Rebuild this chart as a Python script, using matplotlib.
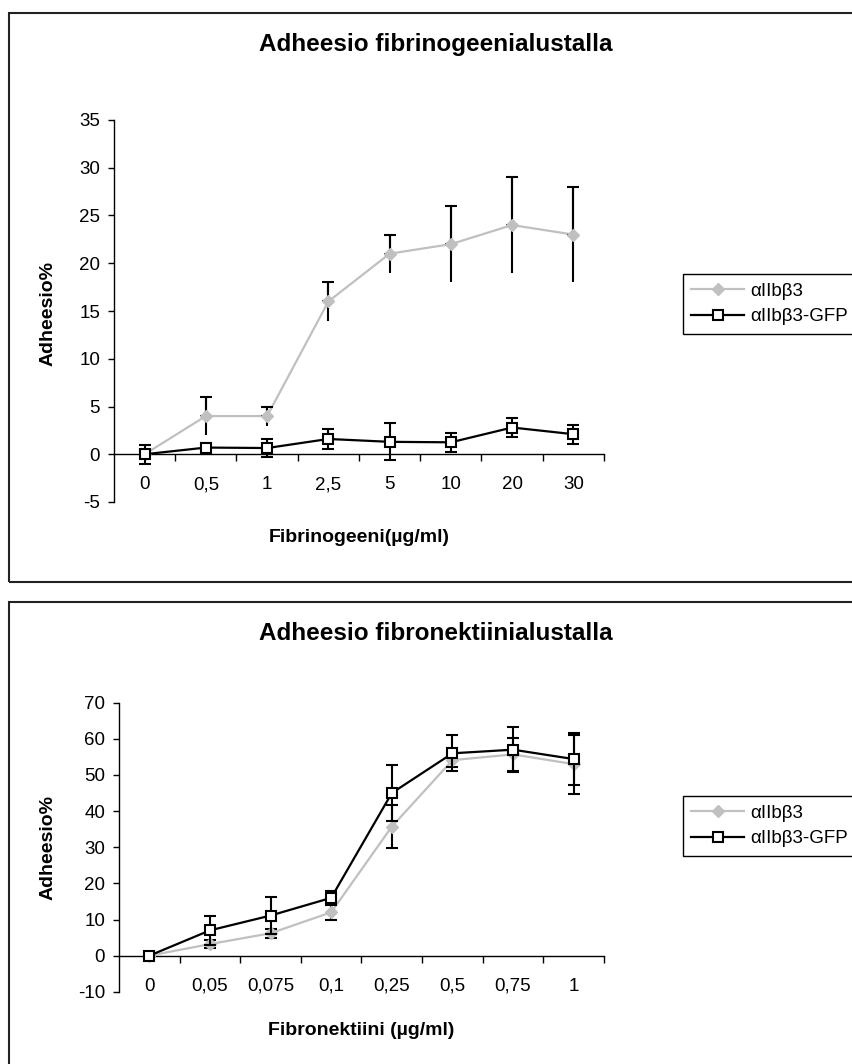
import numpy as np
import matplotlib
matplotlib.use("Agg")
import matplotlib.pyplot as plt
from matplotlib.patches import Rectangle
from matplotlib.lines import Line2D

plt.rcParams['font.family'] = ['Liberation Sans', 'DejaVu Sans']
plt.rcParams['axes.unicode_minus'] = False

# Fibrinogeeni data
fib_labels = ['0', '0,5', '1', '2,5', '5', '10', '20', '30']
fib_wt = [0, 4, 4, 16, 21, 22, 24, 23]
fib_wt_err = [0, 2, 1, 2, 2, 4, 5, 5]
fib_gfp = [0, 0.7, 0.65, 1.6, 1.3, 1.25, 2.8, 2.1]
fib_gfp_err = [1, 0.5, 0.9, 1, 1.95, 1, 1, 1]

# Fibronektiini data
fn_labels = ['0', '0,05', '0,075', '0,1', '0,25', '0,5', '0,75', '1']
fn_wt = [0, 3.2, 6.2, 12, 35.7, 54.1, 55.7, 53]
fn_wt_err = [0, 1, 1.2, 2, 6, 2, 4.5, 8.2]
fn_gfp = [0, 7, 11.1, 16, 45, 56, 57, 54.4]
fn_gfp_err = [0, 4, 5.2, 1.8, 7.7, 5, 6.3, 7.2]

series_names = ['αIIbβ3', 'αIIbβ3-GFP']
gray = '#C0C0C0'

W, H = 853, 1064
fig = plt.figure(figsize=(W / 100, H / 100), dpi=100)


def draw_panel(ax, labels, wt, wt_err, gfp, gfp_err, ylim, ystep, upper_only):
    x = np.arange(len(labels))
    # gray series
    ax.plot(x, wt, color=gray, lw=1.6, zorder=2)
    if upper_only:
        ax.errorbar(x, wt, yerr=wt_err, fmt='none', ecolor='black',
                    elinewidth=1.5, capsize=0, zorder=3)
        ax.errorbar(x, wt, yerr=[np.zeros(len(x)), wt_err], fmt='none',
                    ecolor='black', elinewidth=1.5, capsize=4.3,
                    capthick=1.5, zorder=3)
    else:
        ax.errorbar(x, wt, yerr=wt_err, fmt='none', ecolor='black',
                    elinewidth=1.5, capsize=4.3, capthick=1.5, zorder=3)
    ax.plot(x, wt, ls='none', marker='D', ms=6.5, mfc=gray, mec=gray, zorder=4)
    # black series
    ax.errorbar(x, gfp, yerr=gfp_err, fmt='none', ecolor='black',
                elinewidth=1.5, capsize=4.3, capthick=1.5, zorder=5)
    ax.plot(x, gfp, color='black', lw=1.6, marker='s', ms=7.5,
            mfc='white', mec='black', mew=1.5, zorder=6)

    ax.set_xlim(-0.5, len(labels) - 0.5)
    ax.set_ylim(*ylim)
    ax.set_yticks(np.arange(ylim[0], ylim[1] + 1, ystep))
    ax.set_xticks(np.arange(0.5, len(labels), 1))
    ax.set_xticklabels([])
    ax.set_xticks(x, minor=True)
    ax.set_xticklabels(labels, minor=True)
    ax.tick_params(axis='x', which='major', length=5, width=1, direction='out')
    ax.tick_params(axis='x', which='minor', length=0, pad=16, labelsize=13.5)
    ax.tick_params(axis='y', length=4, width=1, direction='out', pad=6,
                   labelsize=13.5)
    for s in ['top', 'right']:
        ax.spines[s].set_visible(False)
    ax.spines['bottom'].set_position(('data', 0))
    ax.spines['bottom'].set_linewidth(1)
    ax.spines['left'].set_linewidth(1)
    ax.patch.set_alpha(0)


handles = [
    Line2D([], [], color=gray, lw=1.6, marker='D', ms=6.5, mfc=gray, mec=gray),
    Line2D([], [], color='black', lw=1.6, marker='s', ms=7.5, mfc='white',
           mec='black', mew=1.5),
]
legend_kw = dict(loc='upper left', fontsize=13.5, frameon=True, fancybox=False,
                 edgecolor='black', framealpha=1, handlelength=2.8,
                 labelspacing=0.45, borderpad=0.45, handletextpad=0.35,
                 borderaxespad=0)

# Top chart
fig.patches.append(Rectangle((9 / W, 1 - 582 / H), (870 - 9) / W, (582 - 13) / H,
                             transform=fig.transFigure, fill=False,
                             ec='#222222', lw=1.5))
ax1 = fig.add_axes([114 / W, 1 - 502 / H, (604 - 114) / W, (502 - 120) / H])
draw_panel(ax1, fib_labels, fib_wt, fib_wt_err, fib_gfp, fib_gfp_err,
           (-5, 35), 5, True)
fig.text(436 / W, 1 - 45 / H, 'Adheesio fibrinogeenialustalla', ha='center',
         va='center', fontsize=17.5, fontweight='bold')
ax1.set_ylabel('Adheesio%', fontsize=14, fontweight='bold')
ax1.yaxis.set_label_coords((48 - 114) / 490, (502 - 313) / 382)
ax1.set_xlabel('Fibrinogeeni(µg/ml)', fontsize=14, fontweight='bold')
ax1.xaxis.set_label_coords(0.5, (502 - 538) / 382)
ax1.xaxis.label.set_va('center')
ax1.yaxis.label.set_va('center')
fig.legend(handles, series_names, bbox_to_anchor=(683 / W, 1 - 274 / H),
           **legend_kw)

# Bottom chart
fig.patches.append(Rectangle((9 / W, -3 / H), (870 - 9) / W, (H - 602 + 3) / H,
                             transform=fig.transFigure, fill=False,
                             ec='#222222', lw=1.5))
ax2 = fig.add_axes([119 / W, 1 - 991.8 / H, (604 - 119) / W, (991.8 - 702.7) / H])
draw_panel(ax2, fn_labels, fn_wt, fn_wt_err, fn_gfp, fn_gfp_err,
           (-10, 70), 10, False)
fig.text(436 / W, 1 - 634 / H, 'Adheesio fibronektiinialustalla', ha='center',
         va='center', fontsize=17.5, fontweight='bold')
ax2.set_ylabel('Adheesio%', fontsize=14, fontweight='bold')
ax2.yaxis.set_label_coords((48 - 119) / 485, 0.5)
ax2.set_xlabel('Fibronektiini (µg/ml)', fontsize=14, fontweight='bold')
ax2.xaxis.set_label_coords(0.5, (991.8 - 1030) / 289)
ax2.xaxis.label.set_va('center')
ax2.yaxis.label.set_va('center')
fig.legend(handles, series_names, bbox_to_anchor=(683 / W, 1 - 796 / H),
           **legend_kw)

fig.savefig('out.png', dpi=100)
